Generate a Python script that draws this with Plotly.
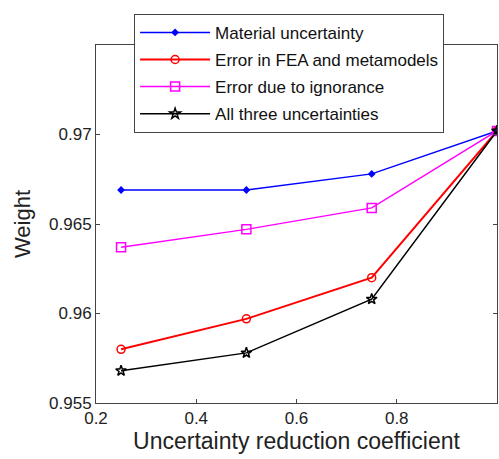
import plotly.graph_objects as go

x = [0.25, 0.5, 0.75, 1.0]
material = [0.9669, 0.9669, 0.9678, 0.9702]
fea = [0.9580, 0.9597, 0.9620, 0.9702]
ignorance = [0.9637, 0.9647, 0.9659, 0.9702]
all_three = [0.9568, 0.9578, 0.9608, 0.9702]

xticks = [0.2, 0.4, 0.6, 0.8, 1.0]
xticklabels = ["0.2", "0.4", "0.6", "0.8", "1"]
yticks = [0.955, 0.96, 0.965, 0.97]
yticklabels = ["0.955", "0.96", "0.965", "0.97"]

FONT = "Liberation Sans, Arial"

fig = go.Figure()
fig.add_trace(go.Scatter(x=x, y=material, mode="lines+markers", name="Material uncertainty",
                         legendgroup="a",
                         line=dict(color="#0000ff", width=1.5),
                         marker=dict(symbol="diamond", size=6, color="#0000ff")))
fig.add_trace(go.Scatter(x=x, y=fea, mode="lines+markers", name="Error in FEA and metamodels",
                         legendgroup="b",
                         line=dict(color="#ff0000", width=2),
                         marker=dict(symbol="circle-open", size=8, color="#ff0000", line=dict(width=1.5))))
fig.add_trace(go.Scatter(x=x, y=ignorance, mode="lines+markers", name="Error due to ignorance",
                         legendgroup="c",
                         line=dict(color="#ff00ff", width=1.5),
                         marker=dict(symbol="square-open", size=9, color="#ff00ff", line=dict(width=1.5))))
fig.add_trace(go.Scatter(x=x, y=all_three, mode="lines+markers", name="All three uncertainties",
                         legendgroup="d",
                         line=dict(color="#000000", width=1.5),
                         marker=dict(symbol="star-open", size=8, color="#000000", line=dict(width=1.5))))

axis_common = dict(showline=True, linecolor="#444444", linewidth=1, mirror="ticks",
                   ticks="inside", ticklen=4, tickcolor="#444444", showgrid=False, zeroline=False,
                   tickfont=dict(family=FONT, size=17, color="#222222"))

fig.update_layout(
    width=499, height=459,
    margin=dict(l=96, r=2, t=45, b=56),
    paper_bgcolor="white", plot_bgcolor="white",
    xaxis=dict(range=[0.2, 1.0], tickvals=xticks, ticktext=xticklabels,
               title=dict(text="Uncertainty reduction coefficient", standoff=1,
                          font=dict(family=FONT, size=23, color="#222222")),
               **axis_common),
    yaxis=dict(range=[0.955, 0.975], tickvals=yticks, ticktext=yticklabels,
               title=dict(text="Weight", standoff=12,
                          font=dict(family=FONT, size=22, color="#222222")),
               **axis_common),
    legend=dict(x=0.095, y=1.087, xanchor="left", yanchor="top",
                bgcolor="white", bordercolor="#444444", borderwidth=1,
                font=dict(family=FONT, size=17, color="#111111"),
                traceorder="grouped", tracegroupgap=2, itemwidth=70),
    showlegend=True,
)

fig.write_html("out.html")
